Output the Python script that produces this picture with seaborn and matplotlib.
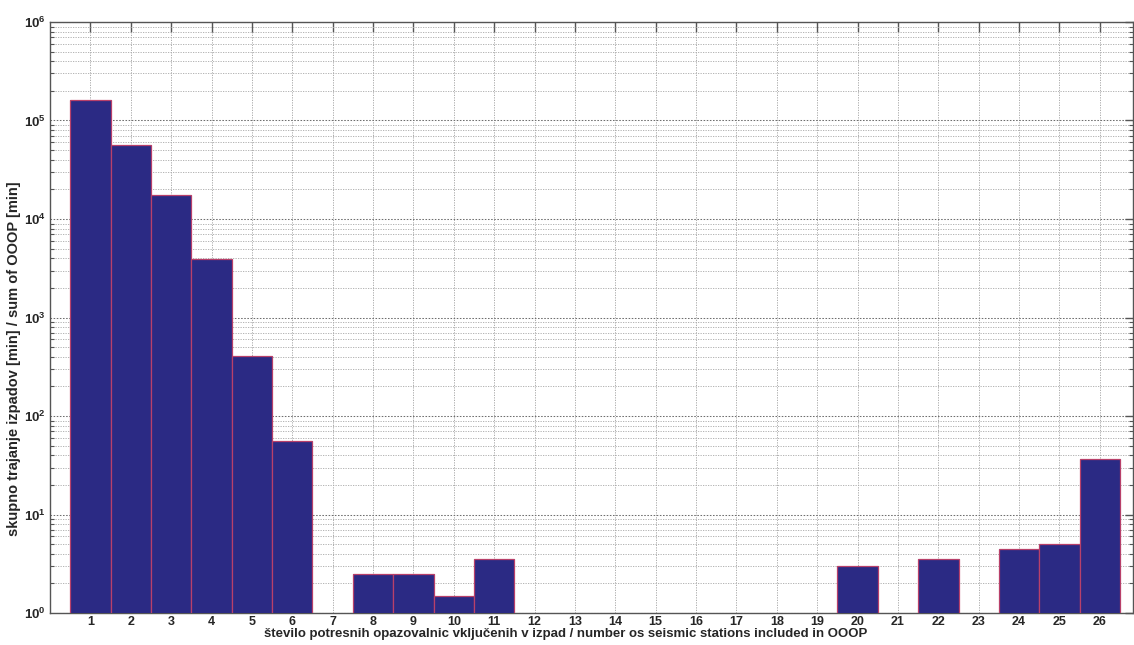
import numpy as np
import pandas as pd
import matplotlib
matplotlib.use("Agg")
import matplotlib.pyplot as plt
import matplotlib.ticker as mticker
import seaborn as sns

# Number of seismic stations included in an outage, and the summed outage duration [min]
stations = list(range(1, 27))
duration_min = [160000, 57000, 17500, 3900, 410, 56, 0, 2.5, 2.5, 1.5, 3.5,
                0, 0, 0, 0, 0, 0, 0, 0, 3, 0, 3.5, 0, 4.5, 5, 37]

xlabel_text = ("število potresnih opazovalnic vključenih v izpad / "
               "number os seismic stations included in OOOP")
ylabel_text = "skupno trajanje izpadov [min] / sum of OOOP [min]"

sns.set_style("white")
plt.rcParams["font.family"] = ["Liberation Sans", "DejaVu Sans"]
plt.rcParams["font.weight"] = "bold"
plt.rcParams["mathtext.fontset"] = "custom"
plt.rcParams["mathtext.bf"] = "Liberation Sans:bold"
plt.rcParams["mathtext.rm"] = "Liberation Sans:bold"

df = pd.DataFrame({"stations": [str(s) for s in stations],
                   "duration": duration_min})
df = df[df["duration"] > 0]
order = [str(s) for s in stations]

fig = plt.figure(figsize=(11.34, 6.45), dpi=100)
ax = fig.add_axes([0.0441, 0.0496, 0.955, 0.9163])

sns.barplot(data=df, x="stations", y="duration", order=order, ax=ax,
            color="#2b2a84", edgecolor="#b8406a", linewidth=0.9,
            width=1.0, saturation=1.0, errorbar=None, zorder=3)

ax.set_yscale("log")
ax.set_ylim(1, 1e6)
ax.set_xlim(-1, 25.82)

# decade labels drawn in bold math text
ax.yaxis.set_major_locator(mticker.LogLocator(base=10, numticks=10))
ax.yaxis.set_minor_locator(mticker.LogLocator(base=10, subs=np.arange(2, 10), numticks=20))
ax.yaxis.set_major_formatter(mticker.FuncFormatter(
    lambda v, p: r"$\mathbf{10^{%d}}$" % int(round(np.log10(v)))))
ax.yaxis.set_minor_formatter(mticker.NullFormatter())

ax.grid(True, which="major", axis="y", linestyle=(0, (1.5, 1.5)), color="#6e6e6e", linewidth=0.75, zorder=0)
ax.grid(True, which="minor", axis="y", linestyle=(0, (1.5, 1.5)), color="#a8a8a8", linewidth=0.6, zorder=0)
ax.grid(True, which="major", axis="x", linestyle=(0, (1.5, 1.5)), color="#a0a0a0", linewidth=0.6, zorder=0)
ax.set_axisbelow(True)

ax.tick_params(axis="x", which="major", direction="in", length=7, width=1.0,
               color="#555555", top=True, labelsize=9, pad=2)
ax.tick_params(axis="y", which="major", direction="in", length=6, width=1.0,
               color="#555555", right=True, labelsize=9.5, pad=3)
ax.tick_params(axis="y", which="minor", direction="in", length=3, width=0.8,
               color="#555555", right=True, left=True)
for lab in ax.get_xticklabels():
    lab.set_fontweight("bold")

for side in ["left", "bottom", "top", "right"]:
    ax.spines[side].set_visible(True)
    ax.spines[side].set_color("#555555")
    ax.spines[side].set_linewidth(1.0)

ax.set_xlabel(xlabel_text, fontsize=9.5, fontweight="bold")
ax.set_ylabel(ylabel_text, fontsize=10.5, fontweight="bold")
ax.xaxis.set_label_coords(0.476, -0.0255)
ax.yaxis.set_label_coords(-0.027, 0.431)

fig.savefig("out.png", dpi=100)
